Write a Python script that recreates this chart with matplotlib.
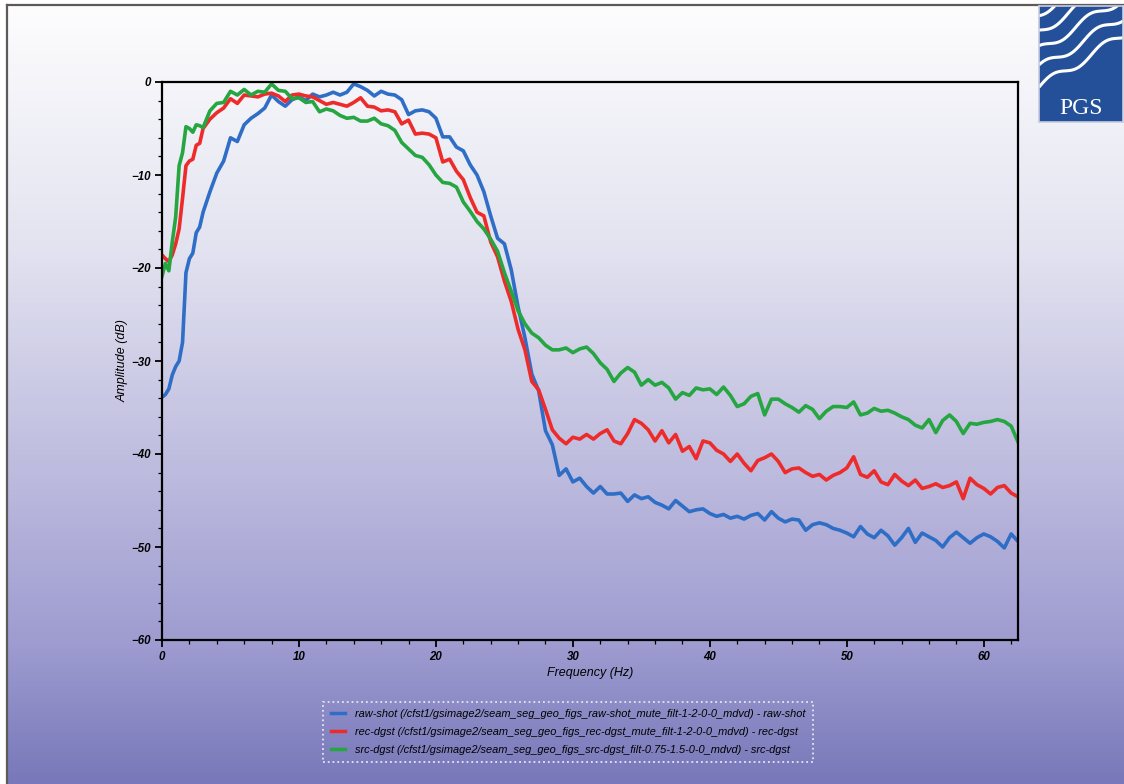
#!/usr/bin/env python3
"""
Amplitude spectra of raw shot vs. receiver / source deghosted data,
redrawn on the PGS slide background.

    python3 plot.py   ->  out.png
"""
import numpy as np
import matplotlib
matplotlib.use("Agg")
import matplotlib.pyplot as plt
from matplotlib.colors import LinearSegmentedColormap
from matplotlib.lines import Line2D
from matplotlib.ticker import MultipleLocator

plt.rcParams["font.family"] = ["Liberation Sans", "DejaVu Sans"]

# frequency samples (Hz): finer over the low-cut ramp, then every 0.5 Hz
FREQ = [0.0, 0.25, 0.5, 0.75, 1.0, 1.25, 1.5, 1.75, 2.0, 2.25, 2.5, 2.75,
        3.0] + [3.5 + 0.5 * i for i in range(119)]

RAW_SHOT = [
    -33.9, -33.6, -33.0, -31.5, -30.6, -30.0, -28.0, -20.5, -19.0, -18.4,
    -16.2, -15.6, -14.0,
    -11.8, -9.8, -8.5, -6.0, -6.4, -4.6, -3.9, -3.4, -2.8, -1.4,
    -2.1, -2.6, -1.9, -1.6, -2.0, -1.3, -1.6, -1.4, -1.1, -1.4,
    -1.1, -0.2, -0.5, -0.9, -1.5, -1.0, -1.3, -1.4, -1.9, -3.5,
    -3.1, -3.0, -3.2, -3.9, -5.9, -5.9, -7.0, -7.4, -8.9, -10.0,
    -11.8, -14.4, -16.8, -17.4, -20.2, -24.2, -27.5, -31.4, -33.2, -37.5,
    -39.0, -42.3, -41.6, -43.0, -42.6, -43.5, -44.2, -43.5, -44.3, -44.3,
    -44.2, -45.1, -44.4, -44.8, -44.6, -45.2, -45.5, -45.9, -45.0, -45.6,
    -46.2, -46.0, -45.9, -46.4, -46.7, -46.5, -46.9, -46.7, -47.0, -46.6,
    -46.4, -47.1, -46.2, -46.9, -47.3, -47.0, -47.1, -48.2, -47.6, -47.4,
    -47.6, -48.0, -48.2, -48.5, -48.9, -47.8, -48.6, -49.0, -48.2, -48.8,
    -49.8, -49.0, -48.0, -49.5, -48.5, -48.9, -49.3, -50.0, -49.0, -48.4,
    -49.0, -49.6, -49.0, -48.6, -48.9, -49.4, -50.1, -48.6, -49.4,
]

REC_DGST = [
    -18.6, -19.0, -19.3, -18.6, -17.4, -15.8, -12.5, -9.0, -8.5, -8.3,
    -6.8, -6.6, -5.0,
    -4.0, -3.3, -2.8, -1.8, -2.3, -1.4, -1.5, -1.6, -1.3, -1.2,
    -1.5, -2.1, -1.4, -1.3, -1.5, -1.6, -2.0, -2.4, -2.2, -2.4,
    -2.6, -2.2, -1.7, -2.6, -2.7, -3.1, -3.0, -3.2, -4.5, -4.1,
    -5.6, -5.5, -5.6, -6.0, -8.6, -8.3, -9.6, -10.5, -12.4, -14.0,
    -14.4, -17.2, -18.8, -21.4, -23.6, -26.6, -28.8, -32.2, -33.1, -35.2,
    -37.4, -38.3, -38.9, -38.2, -38.4, -37.9, -38.4, -37.8, -37.4, -38.6,
    -38.9, -37.8, -36.3, -36.7, -37.4, -38.6, -37.5, -38.8, -37.9, -39.7,
    -39.2, -40.5, -38.6, -38.8, -39.6, -40.0, -40.8, -40.0, -41.0, -41.8,
    -40.7, -40.4, -40.0, -40.8, -42.0, -41.6, -41.5, -42.0, -42.4, -42.2,
    -42.8, -42.3, -42.0, -41.5, -40.3, -42.2, -42.5, -41.8, -43.0, -43.3,
    -42.2, -42.9, -43.4, -42.8, -43.7, -43.5, -43.2, -43.6, -43.4, -43.0,
    -44.8, -42.6, -43.3, -43.7, -44.3, -43.6, -43.4, -44.2, -44.6,
]

SRC_DGST = [
    -20.9, -19.5, -20.3, -17.2, -14.5, -9.0, -7.6, -4.8, -5.0, -5.4,
    -4.6, -4.7, -4.9,
    -3.1, -2.3, -2.2, -1.0, -1.4, -0.8, -1.4, -1.0, -1.1, -0.2,
    -0.9, -1.0, -1.8, -1.7, -2.2, -2.1, -3.2, -2.9, -3.1, -3.6,
    -3.9, -3.8, -4.2, -4.2, -3.9, -4.5, -4.7, -5.2, -6.5, -7.2,
    -7.9, -8.1, -8.9, -10.0, -10.8, -10.9, -11.3, -12.9, -13.9, -15.0,
    -15.8, -16.9, -18.2, -20.5, -22.5, -24.6, -26.0, -27.0, -27.5, -28.3,
    -28.8, -28.8, -28.6, -29.1, -28.7, -28.5, -29.2, -30.2, -30.9, -32.2,
    -31.3, -30.7, -31.2, -32.6, -32.0, -32.6, -32.3, -32.9, -34.1, -33.4,
    -33.7, -32.9, -33.1, -33.0, -33.6, -32.8, -33.7, -34.9, -34.6, -33.8,
    -33.5, -35.8, -34.1, -34.1, -34.6, -35.0, -35.5, -34.8, -35.2, -36.2,
    -35.4, -34.9, -34.9, -35.0, -34.4, -35.8, -35.6, -35.1, -35.4, -35.3,
    -35.6, -36.0, -36.3, -36.9, -37.2, -36.3, -37.7, -36.4, -35.8, -36.5,
    -37.8, -36.7, -36.8, -36.6, -36.5, -36.3, -36.5, -37.0, -38.7,
]

LABELS = [
    "raw-shot (/cfst1/gsimage2/seam_seg_geo_figs_raw-shot_mute_filt-1-2-0-0_mdvd) - raw-shot",
    "rec-dgst (/cfst1/gsimage2/seam_seg_geo_figs_rec-dgst_mute_filt-1-2-0-0_mdvd) - rec-dgst",
    "src-dgst (/cfst1/gsimage2/seam_seg_geo_figs_src-dgst_filt-0.75-1.5-0-0_mdvd) - src-dgst",
]
COLORS = ["#2f6ec6", "#ee2b2b", "#25a640"]

W, H = 1124, 784


def draw_background(fig):
    # slide gradient, white at the top fading to lavender blue
    cmap = LinearSegmentedColormap.from_list(
        "slide", [(0.0, "#fdfdfe"), (0.3, "#e4e4f1"), (0.6, "#bdbbde"),
                  (0.82, "#9e9cd0"), (1.0, "#7878ba")])
    bg = fig.add_axes([7 / W, 0, 1 - 7 / W, 1 - 5 / H], zorder=-10)
    grad = np.linspace(0, 1, 256).reshape(-1, 1)
    bg.imshow(grad, aspect="auto", cmap=cmap, extent=[0, 1, 0, 1], origin="upper")
    bg.set_axis_off()
    fig.add_artist(Line2D([7 / W, 7 / W], [0, 1 - 5 / H], color="#5f5a5a", lw=1.6))
    fig.add_artist(Line2D([7 / W, 1], [1 - 5 / H, 1 - 5 / H], color="#5f5a5a", lw=1.6))


def draw_logo(fig):
    lg = fig.add_axes([1039 / W, 1 - 122 / H, 84 / W, 116 / H], zorder=5)
    lg.set_xlim(0, 1)
    lg.set_ylim(0, 1)
    lg.set_facecolor("#24509a")
    for s in lg.spines.values():
        s.set_color("#c8cce0")
        s.set_linewidth(1.2)
    lg.set_xticks([])
    lg.set_yticks([])
    t = np.linspace(0, 1, 80)
    for k in range(5):
        base = 0.30 + 0.16 * k
        lg.plot(t, base + 0.45 * t + 0.04 * np.sin(2 * np.pi * (1.6 * t + 0.15 * k)),
                color="white", lw=2.2, solid_capstyle="butt")
    lg.text(0.5, 0.12, "PGS", color="white", ha="center", va="center",
            fontsize=17, family=["Liberation Serif", "DejaVu Serif"])


def main():
    fig = plt.figure(figsize=(W / 100, H / 100), dpi=100)
    draw_background(fig)
    draw_logo(fig)

    ax = fig.add_axes([162 / W, 1 - 640 / H, 856 / W, 558 / H])
    ax.set_facecolor("none")

    for vals, col, lab in zip([RAW_SHOT, REC_DGST, SRC_DGST], COLORS, LABELS):
        ax.plot(FREQ, vals, color=col, lw=2.6, label=lab, solid_joinstyle="round")

    ax.set_xlim(0, 62.5)
    ax.set_ylim(-60, 0)
    ax.xaxis.set_major_locator(MultipleLocator(10))
    ax.xaxis.set_minor_locator(MultipleLocator(2))
    ax.yaxis.set_major_locator(MultipleLocator(10))
    ax.yaxis.set_minor_locator(MultipleLocator(2))
    ax.tick_params(which="major", direction="out", length=5, width=1.3, pad=3)
    ax.tick_params(which="minor", direction="out", length=3, width=0.9)
    for s in ax.spines.values():
        s.set_color("black")
        s.set_linewidth(1.6)
    for lab in ax.get_xticklabels() + ax.get_yticklabels():
        lab.set_fontsize(8.3)
        lab.set_fontweight("bold")
        lab.set_fontstyle("italic")

    ax.set_xlabel("Frequency (Hz)", fontsize=9, style="italic", labelpad=3)
    ax.set_ylabel("Amplitude (dB)", fontsize=9, style="italic", labelpad=2)

    leg = fig.legend(loc="center", bbox_to_anchor=(568 / W, 1 - 732 / H),
                     prop={"style": "italic", "size": 7.9},
                     handlelength=1.3, handletextpad=0.9, labelspacing=0.7,
                     borderpad=0.7, fancybox=False, framealpha=1,
                     facecolor="none", edgecolor="#e6e6f2")
    frame = leg.get_frame()
    frame.set_linestyle(":")
    frame.set_linewidth(1.3)
    for line in leg.get_lines():
        line.set_linewidth(2.5)

    fig.savefig("out.png", dpi=100)
    plt.close(fig)


if __name__ == "__main__":
    main()
